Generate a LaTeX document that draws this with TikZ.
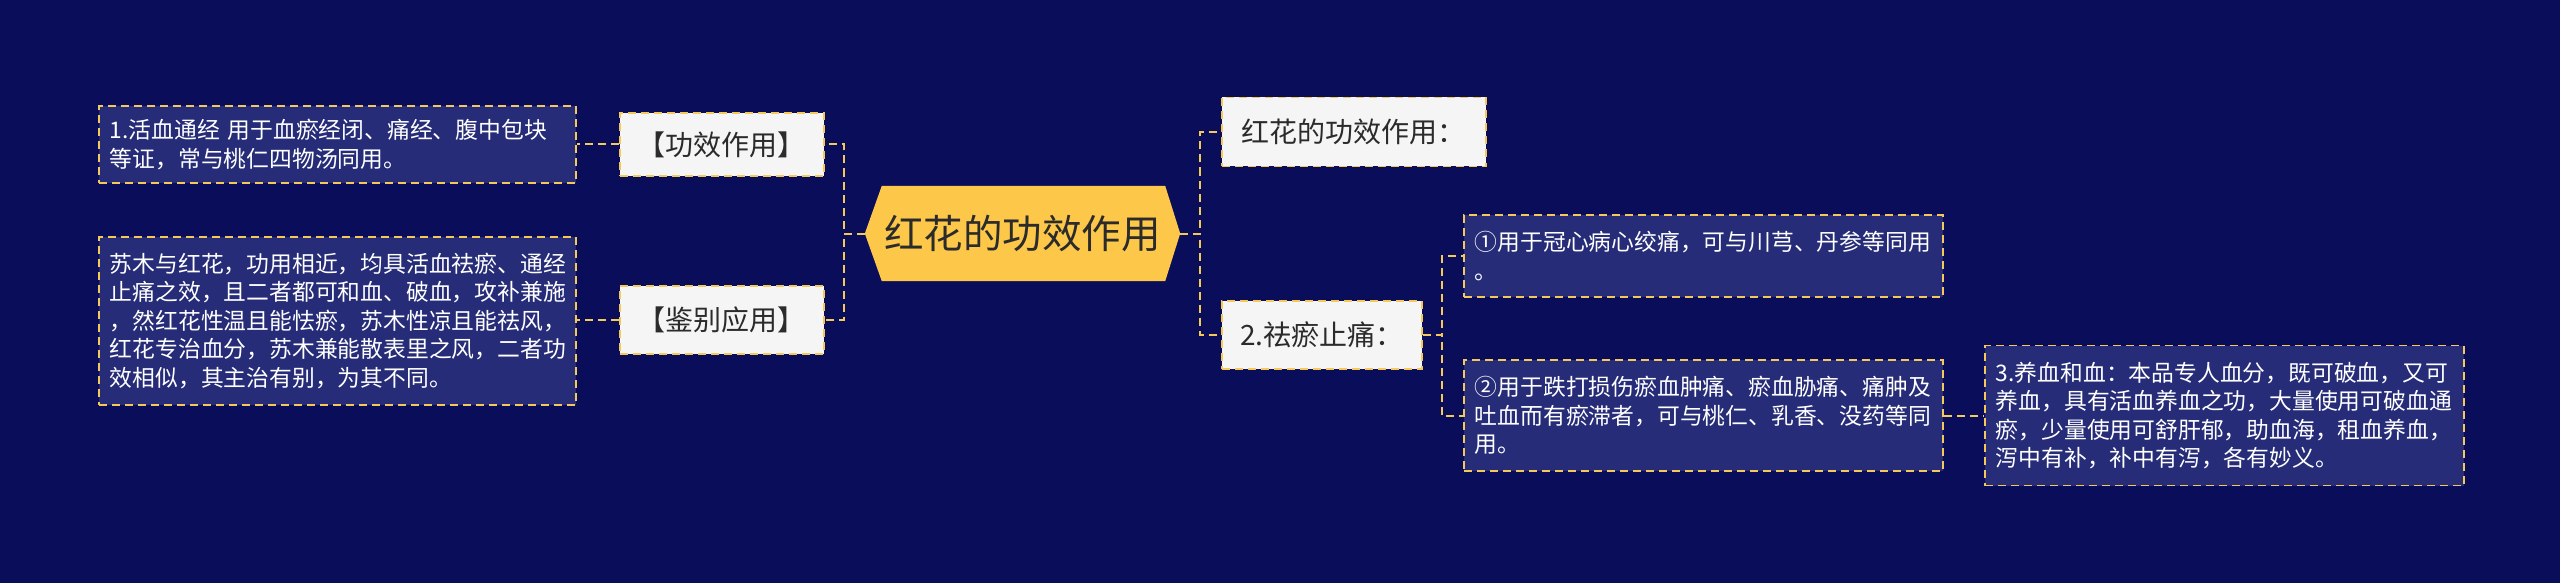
\documentclass[tikz,border=0pt]{standalone}
\usepackage{fontspec}
\setmainfont{Noto Sans CJK SC}
\definecolor{navy}{HTML}{0A0D5A}
\definecolor{boxblue}{HTML}{262C78}
\definecolor{lineyel}{HTML}{F4C95A}
\definecolor{hubyel}{HTML}{FDC749}
\definecolor{paper}{HTML}{F5F5F5}
\definecolor{ink}{HTML}{2B2B2B}
\begin{document}
\begin{tikzpicture}[x=1pt,y=-1pt,
  link/.style={draw=lineyel, line width=2pt, dash pattern=on 8pt off 5pt},
  darkbox/.style={draw=lineyel, fill=boxblue, line width=1.8pt, dash pattern=on 8pt off 5pt,
    text=white, anchor=west, align=left, inner xsep=11pt, inner ysep=0pt,
    font=\fontsize{22.8}{28.5}\selectfont},
  lightbox/.style={draw=lineyel, fill=paper, line width=1.8pt, dash pattern=on 8pt off 5pt,
    text=ink, anchor=west, align=center, inner sep=0pt,
    font=\fontsize{28}{32}\selectfont}]
\fill[navy] (0,0) rectangle (2560,583);
\useasboundingbox (0,0) rectangle (2560,583);

% centre
\node[minimum width=315pt, minimum height=95pt, inner sep=0pt] (hub) at (1022.5,233.5) {};
\fill[hubyel] (hub.west) -- ([xshift=17pt]hub.north west) -- ([xshift=-15pt]hub.north east)
    -- (hub.east) -- ([xshift=-15pt]hub.south east) -- ([xshift=17pt]hub.south west) -- cycle;
\node[text=ink, font=\fontsize{39.5}{44}\selectfont] at (hub) {红花的功效作用};

% left side
\node[lightbox, minimum width=204pt, minimum height=63pt] (gongxiao) at (619,144.5) {【功效作用】};
\node[lightbox, minimum width=204pt, minimum height=68pt] (jianbie) at (619,320) {【鉴别应用】};
\node[darkbox, text width=455pt, minimum height=77pt] (huoxue) at (98,144.5)
    {1.活血通经 用于血瘀经闭、痛经、腹中包块\\等证，常与桃仁四物汤同用。};
\node[darkbox, text width=455pt, minimum height=168pt] (sumu) at (98,321)
    {苏木与红花，功用相近，均具活血祛瘀、通经\\止痛之效，且二者都可和血、破血，攻补兼施\\，然红花性温且能怯瘀，苏木性凉且能祛风，\\红花专治血分，苏木兼能散表里之风，二者功\\效相似，其主治有别，为其不同。};

% right side
\node[lightbox, minimum width=264pt, minimum height=69pt] (zuoyong) at (1221,132) {红花的功效作用：};
\node[lightbox, minimum width=200pt, minimum height=68pt] (quyu) at (1221,335) {2.祛瘀止痛：};
\node[darkbox, text width=457pt, minimum height=82pt] (guanxin) at (1463,256)
    {①用于冠心病心绞痛，可与川芎、丹参等同用\\。};
\node[darkbox, text width=457pt, minimum height=111pt] (dieda) at (1463,415.5)
    {②用于跌打损伤瘀血肿痛、瘀血胁痛、痛肿及\\吐血而有瘀滞者，可与桃仁、乳香、没药等同\\用。};
\node[darkbox, text width=457pt, minimum height=140pt] (yangxue) at (1984,415.5)
    {3.养血和血：本品专人血分，既可破血，又可\\养血，具有活血养血之功，大量使用可破血通\\瘀，少量使用可舒肝郁，助血海，租血养血，\\泻中有补，补中有泻，各有妙义。};

% connectors
\draw[link] (hub.west) -- ++(-21,0) |- (gongxiao.east);
\draw[link] (hub.west) -- ++(-21,0) |- (jianbie.east);
\draw[link] (gongxiao.west) -- (huoxue.east);
\draw[link] (jianbie.west) -- (sumu.east |- jianbie.west);
\draw[link] (hub.east) -- ++(20,0) |- (zuoyong.west);
\draw[link] (hub.east) -- ++(20,0) |- (quyu.west);
\draw[link] (quyu.east) -- ++(19,0) |- (guanxin.west);
\draw[link] (quyu.east) -- ++(19,0) |- (dieda.west);
\draw[link] (dieda.east) -- (yangxue.west);
\end{tikzpicture}
\end{document}
